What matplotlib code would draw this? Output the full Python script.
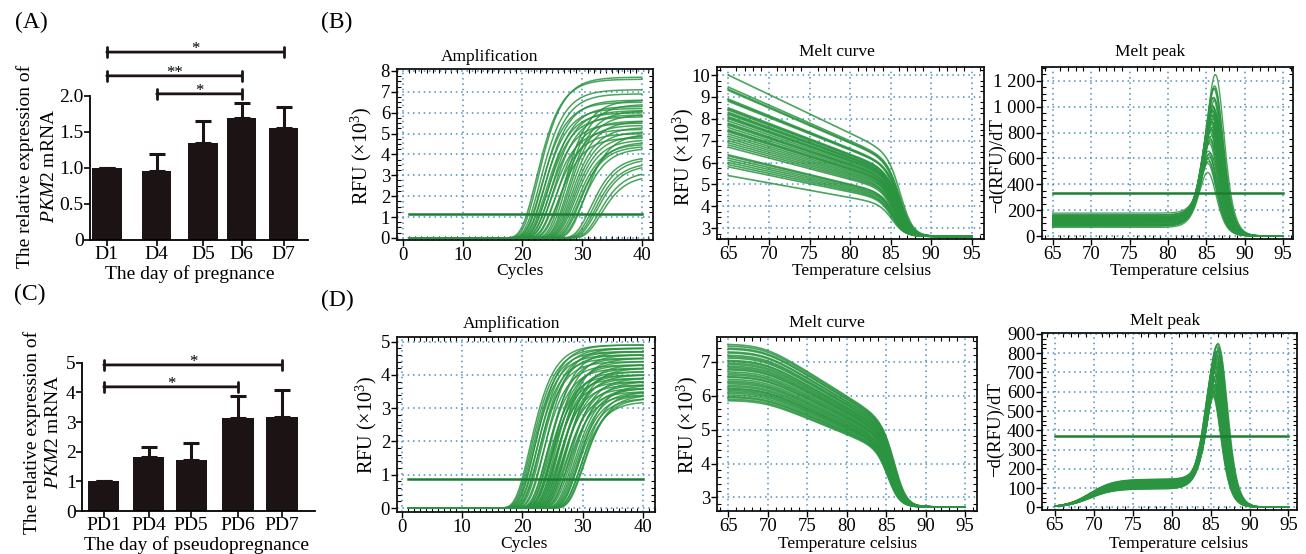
import numpy as np
import matplotlib
matplotlib.use('Agg')
import matplotlib.pyplot as plt
from matplotlib.ticker import MultipleLocator, FuncFormatter

plt.rcParams['font.family'] = ['Liberation Serif', 'DejaVu Serif']
plt.rcParams['mathtext.fontset'] = 'custom'
plt.rcParams['mathtext.rm'] = 'Liberation Serif'
plt.rcParams['mathtext.it'] = 'Liberation Serif:italic'

# ---------------- data ----------------
A_days = ['D1', 'D4', 'D5', 'D6', 'D7']
A_mean = [1.0, 0.96, 1.35, 1.69, 1.56]
A_err = [0.0, 0.23, 0.30, 0.21, 0.29]
A_sig = [(0, 4, '*', 2.61), (0, 3, '**', 2.28), (1, 3, '*', 2.03)]

C_days = ['PD1', 'PD4', 'PD5', 'PD6', 'PD7']
C_mean = [1.0, 1.82, 1.72, 3.14, 3.18]
C_err = [0.0, 0.34, 0.58, 0.75, 0.90]
C_sig = [(0, 4, '*', 4.93), (0, 3, '*', 4.19)]

# amplification curves (B): inflection cycle and plateau RFU (x10^3)
B_amp_mid = [22.3, 22.6, 22.9, 23.1, 23.3, 23.5, 23.7, 23.9, 24.1, 24.3, 24.5, 24.7,
             24.9, 25.1, 25.4, 25.7, 26.0, 26.3,
             26.9, 27.2, 27.5, 27.7, 27.9, 28.1, 28.3, 28.5, 28.7, 29.0, 29.3, 29.6,
             29.9, 30.3,
             31.4, 31.8, 32.1, 32.4, 32.8, 33.1]
B_amp_plateau = [7.6, 7.7, 7.1, 6.5, 6.9, 6.2, 6.6, 6.0, 5.8, 6.3, 5.5, 6.1,
                 5.2, 5.9, 5.0, 5.6, 4.8, 5.4,
                 6.6, 6.4, 6.1, 5.9, 5.6, 5.3, 5.1, 4.9, 4.7, 4.5, 4.4, 4.6,
                 4.3, 5.0,
                 3.9, 3.8, 3.6, 3.5, 3.2, 3.0]
B_amp_threshold = 1.15

# amplification curves (D)
D_amp_mid = [21.2, 21.4, 21.6, 21.8, 22.0, 22.2, 22.4, 22.6, 22.8, 23.0, 23.3, 23.6,
             23.9, 24.1, 24.3, 24.4, 24.6, 24.7, 24.9, 25.0, 25.2, 25.3, 25.5, 25.6,
             25.8, 25.9, 26.1, 26.2, 26.4, 26.5, 26.7, 26.8, 27.0, 27.1, 27.3, 27.5,
             27.7, 27.9,
             28.3, 28.5, 28.7, 28.9, 29.1, 29.3, 29.5, 29.7, 29.9, 30.1]
D_amp_plateau = [4.9, 4.8, 4.7, 4.6, 4.9, 4.5, 4.8, 4.4, 4.7, 4.6, 4.3, 4.8,
                 4.2, 4.5, 4.0, 4.7, 3.9, 4.3, 4.1, 4.6, 3.8, 4.4, 4.0, 4.2,
                 3.7, 4.5, 3.9, 4.1, 3.6, 4.3, 3.8, 4.0, 3.5, 4.2, 3.7, 3.4,
                 3.9, 3.6,
                 3.8, 3.6, 3.5, 3.4, 3.3, 3.7, 3.2, 3.5, 3.3, 3.4]
D_amp_threshold = 0.88

# melt curves (B): RFU at 65 C and melting temperature
B_melt_start = [10.0, 9.45, 9.35, 9.3, 8.9, 8.85, 8.8, 8.5, 8.45, 8.4, 8.3, 8.25,
                8.2, 8.1, 8.05, 8.0, 7.9, 7.8, 7.75, 7.7, 7.6, 7.5, 7.45, 7.4,
                7.3, 7.2, 7.1, 7.0, 6.9, 6.8, 6.7, 6.35, 6.3, 6.2, 6.1, 6.0,
                5.9, 5.8, 5.4]
B_melt_tm = [86.3, 86.2, 86.2, 86.1, 86.1, 86.0, 86.2, 85.9, 86.0, 86.1, 85.9, 86.0,
             85.8, 86.1, 85.9, 85.8, 86.0, 85.7, 85.9, 85.8, 85.7, 85.9, 85.6, 85.8,
             85.7, 85.6, 85.8, 85.5, 85.7, 85.6, 85.5, 85.4, 85.6, 85.4, 85.5, 85.3,
             85.4, 85.3, 85.3]
B_melt_base = 2.62
B_peak_threshold = 330

# melt curves (D)
D_melt_start = [7.52, 7.47, 7.41, 7.38, 7.3, 7.27, 7.2, 7.16, 7.12, 7.05, 7.02, 6.97,
                6.93, 6.88, 6.84, 6.8, 6.77, 6.71, 6.66, 6.62, 6.57, 6.55, 6.49, 6.44,
                6.4, 6.36, 6.31, 6.27, 6.22, 6.2, 6.16, 6.12, 6.08, 6.03, 5.98, 5.95,
                5.9, 5.86]
D_melt_tm = [86.1, 86.0, 86.2, 85.9, 86.1, 86.0, 85.8, 86.1, 85.9, 86.0, 85.7, 85.9,
             86.0, 85.8, 85.6, 85.9, 85.7, 85.8, 85.5, 85.7, 85.9, 85.6, 85.8, 85.4,
             85.7, 85.5, 85.6, 85.8, 85.4, 85.6, 85.5, 85.3, 85.7, 85.4, 85.5, 85.3,
             85.6, 85.4]
D_melt_base = 2.72
D_peak_threshold = 370

# ---------------- style ----------------
W, H = 1306, 554
fig = plt.figure(figsize=(W / 100, H / 100), dpi=100)

def rect(l, t, r, b):
    return [l / W, 1 - b / H, (r - l) / W, (b - t) / H]

def ftext(x, y, s, **kw):
    fig.text(x / W, 1 - y / H, s, ha='center', va='center', **kw)

BAR = '#1c1414'
GREEN = '#2a9440'
THR = '#1d7d32'
GRID = '#4a8fb8'

# ---------------- bar panels ----------------
def bar_panel(r, pos, names, mean, err, sig, ylim, ybound, yticks, ylabels, xlim, capH):
    ax = fig.add_axes(r)
    ax.bar(pos, mean, width=0.7, color=BAR, zorder=2)
    lo = [0] * len(err)
    ax.errorbar(pos, mean, yerr=[lo, err], fmt='none', ecolor=BAR, elinewidth=2.2,
                capsize=6, capthick=2.2, zorder=3)
    for i, j, star, h in sig:
        ax.annotate('', xy=(pos[i], h), xytext=(pos[j], h),
                    arrowprops=dict(arrowstyle='|-|,widthA=%g,widthB=%g' % (capH, capH),
                                    lw=2.0, color=BAR, shrinkA=0, shrinkB=0))
        ax.annotate(star, xy=((pos[i] + pos[j]) / 2, h), xytext=(0, -0.5),
                    textcoords='offset points', ha='center', va='baseline', fontsize=12)
    ax.set_xlim(*xlim)
    ax.set_ylim(*ylim)
    for s in ['top', 'right']:
        ax.spines[s].set_visible(False)
    ax.spines['left'].set_bounds(*ybound)
    ax.spines['left'].set_linewidth(1.3)
    ax.spines['bottom'].set_linewidth(1.3)
    ax.set_xticks(pos)
    ax.set_xticklabels(names, fontsize=14)
    ax.set_yticks(yticks)
    ax.set_yticklabels(ylabels, fontsize=14)
    ax.tick_params(axis='both', direction='out', length=4, width=1.2, pad=0.5)
    ax.patch.set_alpha(0)
    return ax

A_pos = [0, 1.19, 2.29, 3.21, 4.21]
bar_panel(rect(90, 42, 308, 240), A_pos, A_days, A_mean, A_err, A_sig,
          (0, 2.75), (0, 2.0), [0, 0.5, 1.0, 1.5, 2.0], ['0', '0.5', '1.0', '1.5', '2.0'],
          (-0.40, 4.79), 0.35)
C_pos = [0, 1.01, 1.96, 3.01, 4.0]
bar_panel(rect(82, 351, 315, 511), C_pos, C_days, C_mean, C_err, C_sig,
          (0, 5.4), (0, 5.0), [0, 1, 2, 3, 4, 5], ['0', '1', '2', '3', '4', '5'],
          (-0.49, 4.74), 0.35)

ftext(190, 274, 'The day of pregnance', fontsize=14)
ftext(197, 545, 'The day of pseudopregnance', fontsize=14)
ftext(25, 166, 'The relative expression of', fontsize=14, rotation=90)
ftext(50, 166, r'$\mathit{PKM2}$ mRNA', fontsize=14, rotation=90)
ftext(32, 432, 'The relative expression of', fontsize=14, rotation=90)
ftext(53, 432, r'$\mathit{PKM2}$ mRNA', fontsize=14, rotation=90)

ftext(31, 22, '(A)', fontsize=17)
ftext(337, 22, '(B)', fontsize=17)
ftext(30, 294, '(C)', fontsize=17)
ftext(337, 300, '(D)', fontsize=17)

# ---------------- curve panels ----------------
def style_curve_ax(ax, xlim, ylim, xmaj, xmin, ymaj, ymin, fmt=None):
    ax.set_xlim(*xlim)
    ax.set_ylim(*ylim)
    ax.xaxis.set_major_locator(MultipleLocator(xmaj))
    ax.xaxis.set_minor_locator(MultipleLocator(xmin))
    ax.yaxis.set_major_locator(MultipleLocator(ymaj))
    ax.yaxis.set_minor_locator(MultipleLocator(ymin))
    if fmt is not None:
        ax.yaxis.set_major_formatter(fmt)
    else:
        ax.yaxis.set_major_formatter(FuncFormatter(lambda v, p: '%d' % round(v)))
    ax.xaxis.set_major_formatter(FuncFormatter(lambda v, p: '%d' % round(v)))
    ax.grid(True, which='major', color=GRID, linestyle=(0, (1, 2.5)), lw=1.1, zorder=0)
    ax.tick_params(which='major', direction='out', length=4, width=1.0,
                   labelsize=13.5, pad=1)
    ax.tick_params(which='minor', direction='in', length=3, width=0.8,
                   top=True, right=True)
    for s in ax.spines.values():
        s.set_linewidth(1.3)
        s.set_color('#111111')

cycles = np.linspace(1, 40, 157)
temps = np.linspace(65, 95, 301)

def amp_panel(r, mids, plats, width, thr, xlim, ylim, ymin):
    ax = fig.add_axes(r)
    for c, p in zip(mids, plats):
        ax.plot(cycles, p * np.exp(-np.exp(-(cycles - c) / width)), color=GREEN,
                lw=1.1, alpha=0.85, zorder=2)
    ax.plot([cycles[0], cycles[-1]], [thr, thr], color=THR, lw=1.8, zorder=3)
    style_curve_ax(ax, xlim, ylim, 10, 1, 1, ymin)
    return ax

def melt_B(start, tm):
    frac = 1 - 0.024 * (temps - 65)
    return B_melt_base + (start - B_melt_base) * frac / (1 + np.exp((temps - tm) / 0.78))

def melt_D(start, tm):
    frac = 1 - 0.0304 * 1.5 * np.logaddexp(0, (temps - 69.5) / 1.5)
    return D_melt_base + (start - D_melt_base) * frac / (1 + np.exp((temps - tm) / 0.77))

def melt_panels(r1, r2, starts, tms, func, thr, xl1, yl1, ymin1, xl2, yl2, ymaj2, ymin2, fmt2):
    ax1 = fig.add_axes(r1)
    ax2 = fig.add_axes(r2)
    for s, tm in zip(starts, tms):
        rfu = func(s, tm)
        ax1.plot(temps, rfu, color=GREEN, lw=1.2, alpha=0.85, zorder=2)
        ax2.plot(temps, -np.gradient(rfu, temps) * 1000, color=GREEN, lw=1.0,
                 alpha=0.85, zorder=2)
    ax2.plot([temps[0], temps[-1]], [thr, thr], color=THR, lw=1.8, zorder=3)
    style_curve_ax(ax1, xl1, yl1, 5, 1, 1, ymin1)
    style_curve_ax(ax2, xl2, yl2, 5, 1, ymaj2, ymin2, fmt2)

thousands = FuncFormatter(lambda v, p: ('{:,}'.format(int(round(v)))).replace(',', ' '))

# B row
amp_panel(rect(397, 69, 653, 240), B_amp_mid, B_amp_plateau, 2.4, B_amp_threshold,
          (-1.0, 41.9), (-0.1, 8.09), 0.25)
melt_panels(rect(717, 67, 984, 239), rect(1042, 67, 1293, 239), B_melt_start, B_melt_tm,
            melt_B, B_peak_threshold, (63.6, 96.5), (2.5, 10.37), 0.25,
            (63.6, 96.3), (-23, 1308), 200, 50, thousands)
# D row
amp_panel(rect(397, 337, 655, 512), D_amp_mid, D_amp_plateau, 2.3, D_amp_threshold,
          (-0.83, 42.0), (-0.12, 5.14), 0.2)
melt_panels(rect(717, 337, 977, 511), rect(1042, 333, 1297, 510), D_melt_start, D_melt_tm,
            melt_D, D_peak_threshold, (63.57, 96.5), (2.6, 7.73), 0.2,
            (63.33, 96.1), (-14, 905), 100, 25, None)

# titles
ftext(490, 57, 'Amplification', fontsize=12.5)
ftext(837, 52, 'Melt curve', fontsize=12.5)
ftext(1150, 52, 'Melt peak', fontsize=12.5)
ftext(512, 324, 'Amplification', fontsize=12.5)
ftext(827, 323, 'Melt curve', fontsize=12.5)
ftext(1165, 321, 'Melt peak', fontsize=12.5)

# axis labels
ftext(520, 271, 'Cycles', fontsize=12.5)
ftext(862, 271, 'Temperature celsius', fontsize=12.5)
ftext(1180, 271, 'Temperature celsius', fontsize=12.5)
ftext(524, 544, 'Cycles', fontsize=12.5)
ftext(848, 544, 'Temperature celsius', fontsize=12.5)
ftext(1179, 544, 'Temperature celsius', fontsize=12.5)

ylab_rfu = r'RFU (×10$^{3}$)'
ftext(361, 156, ylab_rfu, fontsize=14.5, rotation=90)
ftext(683, 157, ylab_rfu, fontsize=14.5, rotation=90)
ftext(997, 166, '\u2212d(RFU)/dT', fontsize=13.5, rotation=90)
ftext(366, 425, ylab_rfu, fontsize=14.5, rotation=90)
ftext(687, 425, ylab_rfu, fontsize=14.5, rotation=90)
ftext(995, 430, '\u2212d(RFU)/dT', fontsize=13.5, rotation=90)

fig.savefig('out.png', dpi=100)
